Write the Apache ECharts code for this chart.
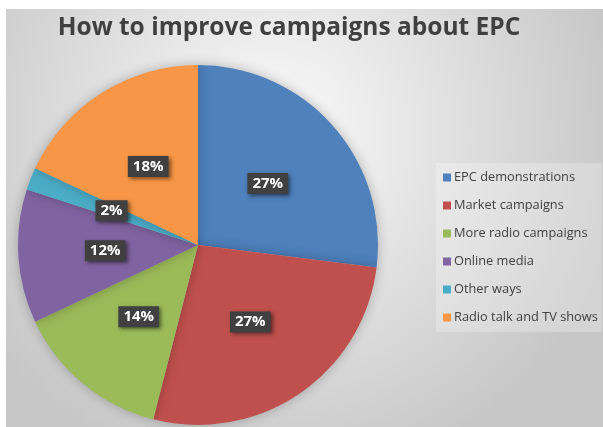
<!DOCTYPE html>
<html>
<head>
<meta charset="utf-8">
<script src="https://cdn.jsdelivr.net/npm/echarts@6/dist/echarts.min.js"></script>
<style>
html,body{margin:0;padding:0;background:#fff;}
#main{position:absolute;left:6px;top:9px;width:597px;height:418px;}
</style>
</head>
<body>
<div id="main"></div>
<script>
var categories = ['EPC demonstrations','Market campaigns','More radio campaigns','Online media','Other ways','Radio talk and TV shows'];
var values = [27, 27, 14, 12, 2, 18];
var colors = ['#4F81BD','#C0504D','#9BBB59','#8064A2','#4BACC6','#F79646'];

var chart = echarts.init(document.getElementById('main'));
var data = categories.map(function(c,i){ return {name:c, value:values[i], itemStyle:{color:colors[i]}}; });
chart.setOption({
  backgroundColor: {
    type:'radial', x:0.45, y:0.3, r:0.85,
    colorStops:[{offset:0,color:'#fbfbfb'},{offset:1,color:'#c6c6c6'}]
  },
  animation:false,
  title:{
    text:'How to improve campaigns about EPC',
    left:278, top:2, textAlign:'center',
    textStyle:{fontFamily:'Open Sans', fontWeight:'bold', fontSize:24.5, color:'#404040'}
  },
  legend:{
    orient:'vertical', left:430, top:154,
    backgroundColor:'rgba(255,255,255,0.25)',
    padding:[8,4,8,7],
    itemWidth:8, itemHeight:8, itemGap:15, icon:'rect',
    textStyle:{fontFamily:'Open Sans', fontSize:12.8, color:'#404040', padding:[0,0,0,-2]},
    data:categories
  },
  series:[{
    type:'pie',
    center:[192,236], radius:[0,180],
    startAngle:90, clockwise:true,
    data:data,
    itemStyle:{shadowBlur:12, shadowColor:'rgba(0,0,0,0.25)'},
    label:{
      position:'inside',
      formatter:'{d}%',
      fontFamily:'Open Sans', fontWeight:'bold', fontSize:15, color:'#ffffff',
      backgroundColor:'#404040',
      padding:[4,5,2,5],
      shadowBlur:4, shadowColor:'rgba(0,0,0,0.5)', shadowOffsetX:2, shadowOffsetY:2
    },
    labelLine:{show:false},
    emphasis:{disabled:true}
  }]
});
</script>
</body>
</html>
